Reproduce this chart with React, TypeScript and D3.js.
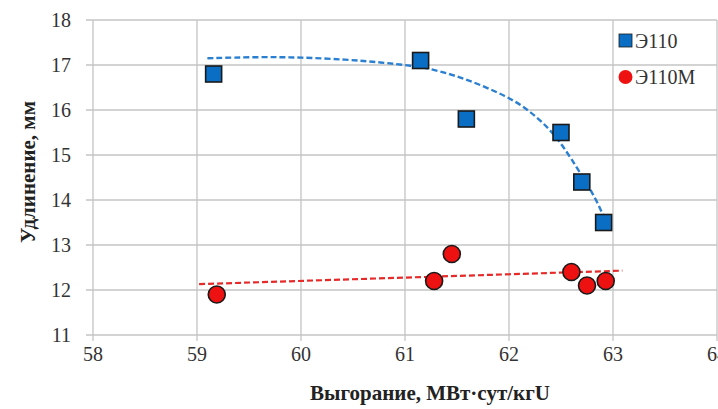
import React from 'react';
import * as d3 from 'd3';

// measured points, Э110
const e110Burnup = [59.16, 61.15, 61.59, 62.5, 62.7, 62.91];
const e110Elong = [16.8, 17.1, 15.8, 15.5, 14.4, 13.5];
// measured points, Э110М
const e110mBurnup = [59.19, 61.28, 61.45, 62.6, 62.75, 62.93];
const e110mElong = [11.9, 12.2, 12.8, 12.4, 12.1, 12.2];

// dashed trend lines
const e110TrendX = [59.1, 59.6, 60.0, 60.44, 60.76, 61.08, 61.24, 61.56, 61.99, 62.2, 62.39, 62.52, 62.68, 62.85, 62.96];
const e110TrendY = [17.15, 17.18, 17.17, 17.12, 17.06, 16.98, 16.92, 16.72, 16.3, 15.98, 15.58, 15.2, 14.62, 13.98, 13.35];
const e110mTrendX = [59.02, 63.09];
const e110mTrendY = [12.13, 12.43];

const xTicks = [58, 59, 60, 61, 62, 63, 64];
const yTicks = [11, 12, 13, 14, 15, 16, 17, 18];

const W = 718, H = 409;
const FONT = '"Liberation Serif", "Times New Roman", serif';
const BLUE = '#0a6ec4';
const RED = '#ee1111';
const GRID = '#c4c4c4';

const App = () => {
  const x = d3.scaleLinear().domain([58, 64]).range([93, 717]);
  const y = d3.scaleLinear().domain([11, 18]).range([335, 20]);

  const trend = d3.line<[number, number]>()
    .x(d => x(d[0]))
    .y(d => y(d[1]))
    .curve(d3.curveBasis);

  const blueTrend = e110TrendX.map((v, i) => [v, e110TrendY[i]] as [number, number]);
  const redTrend = e110mTrendX.map((v, i) => [v, e110mTrendY[i]] as [number, number]);

  const sq = 16;

  return (
    <svg width={W} height={H} style={{ position: 'absolute', left: 0, top: 0, background: '#fff', fontFamily: FONT }}>
      {/* grid */}
      {yTicks.map(t => (
        <line key={'gy' + t} x1={x(58) - 7} x2={x(64)} y1={y(t)} y2={y(t)} stroke={GRID} strokeWidth={1.3} />
      ))}
      {xTicks.map(t => (
        <line key={'gx' + t} x1={x(t)} x2={x(t)} y1={y(18)} y2={y(11) + 6} stroke={GRID} strokeWidth={1.3} />
      ))}

      {/* tick labels */}
      {yTicks.map(t => (
        <text key={'ly' + t} x={71} y={y(t)} dy="0.35em" textAnchor="end"
          fontSize={20} fill="#333">{t}</text>
      ))}
      {xTicks.map(t => (
        <text key={'lx' + t} x={x(t)} y={354} dy="0.35em" textAnchor="middle"
          fontSize={20} fill="#333">{t}</text>
      ))}

      {/* axis titles */}
      <text x={430} y={393} dy="0.35em" textAnchor="middle" fontSize={21}
        fontWeight="bold" fill="#222">Выгорание, МВт·сут/кгU</text>
      <text transform={`translate(28, 172) rotate(-90)`} dy="0.35em" textAnchor="middle"
        fontSize={21} fontWeight="bold" fill="#222">Удлинение, мм</text>

      {/* trend lines */}
      <path d={trend(blueTrend) || ''} fill="none" stroke="#2a7fd0" strokeWidth={2.4} strokeDasharray="6,3" />
      <path d={trend(redTrend) || ''} fill="none" stroke="#e52a2a" strokeWidth={2.2} strokeDasharray="6,3" />

      {/* markers */}
      {e110Burnup.map((v, i) => (
        <rect key={'s' + i} x={x(v) - sq / 2} y={y(e110Elong[i]) - sq / 2} width={sq} height={sq}
          fill={BLUE} stroke="#1a1a1a" strokeWidth={1.6} />
      ))}
      {e110mBurnup.map((v, i) => (
        <circle key={'c' + i} cx={x(v)} cy={y(e110mElong[i])} r={8.5}
          fill={RED} stroke="#1a1a1a" strokeWidth={1.6} />
      ))}

      {/* legend */}
      <rect x={619} y={34} width={13} height={13} fill={BLUE} stroke="#1a1a1a" strokeWidth={0.8} />
      <text x={635} y={41} dy="0.35em" fontSize={20} fill="#333">Э110</text>
      <circle cx={625.5} cy={77} r={7} fill={RED} />
      <text x={635} y={77} dy="0.35em" fontSize={20} fill="#333">Э110М</text>
    </svg>
  );
};

export default App;
